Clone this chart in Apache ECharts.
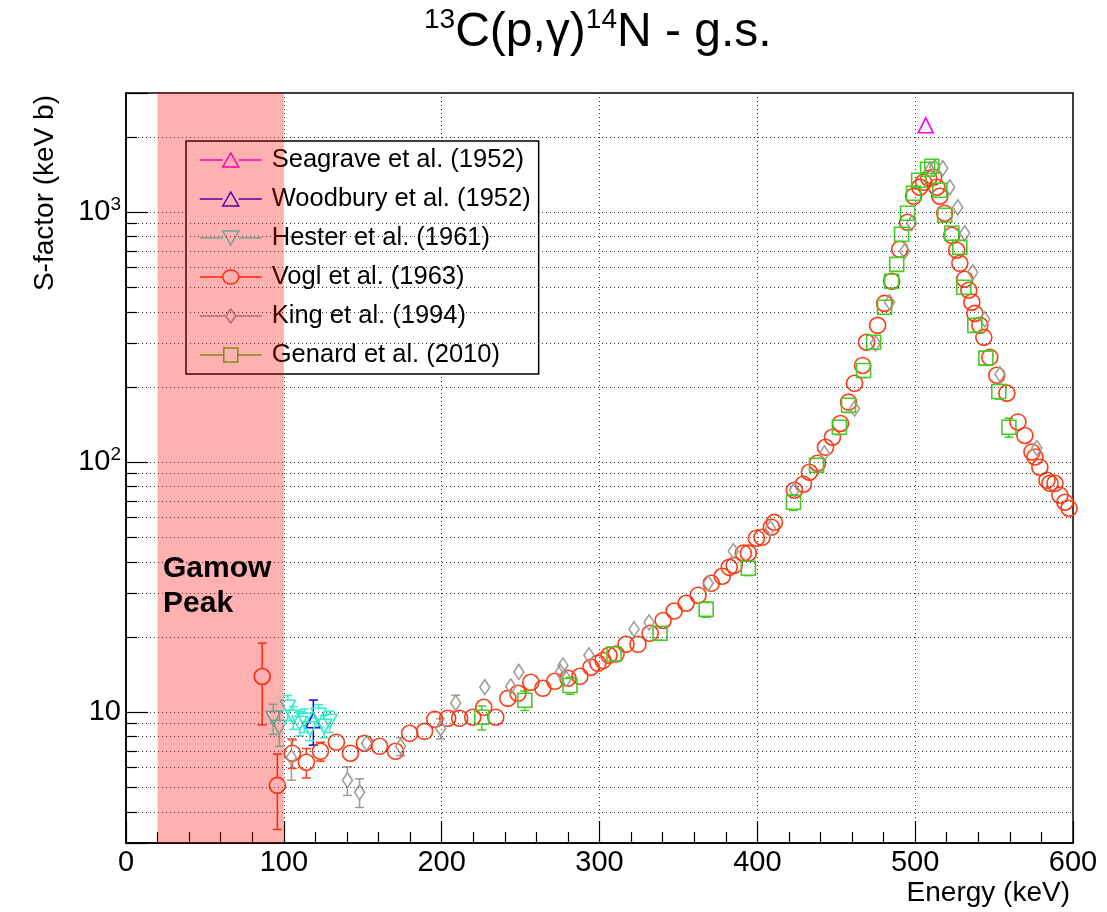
<!DOCTYPE html>
<html>
<head>
<meta charset="utf-8">
<script src="https://cdn.jsdelivr.net/npm/echarts@6/dist/echarts.min.js"></script>
<style>
html,body{margin:0;padding:0;background:#fff;}
#chart{width:1107px;height:912px;}
</style>
</head>
<body>
<div id="chart"></div>
<script>
// ---------------- data ----------------
const seagraveE = [506.7];
const seagraveS = [2228];
const seagraveErr = [0];

const woodburyE = [118.7];
const woodburyS = [9.29];
const woodburyErr = [1.9];

const hesterE = [93.3, 97.1, 102.5, 106.0, 110.0, 113.0, 116.5, 122.0, 125.5, 129.0];
const hesterS = [9.46, 8.71, 10.47, 9.55, 9.04, 9.3, 8.6, 9.73, 8.8, 9.2];
const hesterErr = [1.3, 1.4, 1.2, 1.0, 1.0, 1.0, 0.9, 1.0, 0.9, 0.9];

const voglE = [86.3, 95.9, 105.4, 114.3, 123.2, 133.3, 142.2, 151.1, 160.6, 170.8,
  179.7, 189.2, 195.6, 203.8, 211.4, 219.7, 226.7, 234.3, 241.9, 248.3,
  256.5, 264.1, 271.7, 280.0, 287.6, 294.6, 299.0, 302.2, 306.0, 310.5,
  316.8, 324.4, 332.1, 340.3, 347.3, 354.9, 362.5, 370.8, 377.8, 382.2,
  385.4, 391.1, 394.3, 399.4, 403.0, 408.9, 410.8, 423.5, 429.2, 433.0,
  438.1, 443.2, 447.6, 452.7, 457.8, 461.6, 466.7, 469.2, 476.2, 480.6,
  485.1, 490.2, 495.2, 499.0, 502.9, 505.4, 508.6, 511.7, 513.7, 515.6,
  518.7, 523.2, 526.3, 528.3, 531.4, 534.0, 535.9, 537.8, 541.0, 543.5,
  547.3, 551.7, 558.1, 565.1, 569.5, 574.0, 575.9, 579.0, 583.5, 585.4,
  588.6, 591.7, 594.9, 597.5];
const voglS = [13.9, 5.1, 6.86, 6.31, 6.98, 7.59, 6.86, 7.52, 7.31, 6.98,
  8.24, 8.39, 9.37, 9.46, 9.46, 9.55, 10.47, 9.55, 11.37, 11.91,
  13.18, 12.47, 13.3, 13.68, 13.93, 15.14, 15.7, 16.1, 16.9, 17.1,
  18.7, 18.7, 20.7, 23.3, 25.4, 27.3, 29.4, 32.8, 35.0, 38.0,
  38.7, 43.3, 43.3, 49.7, 50.1, 55.0, 57.5, 77.3, 81.7, 91.2,
  99.1, 114.8, 125.9, 143, 174, 207, 244, 302, 353, 432,
  530, 711, 912, 1159, 1259, 1318, 1368, 1380, 1259, 1159,
  991, 809, 705, 625, 540, 488, 437, 394, 353, 316,
  263, 223, 189, 145, 128, 110, 105, 95.5, 84.7, 82.4,
  82.4, 73.8, 69.2, 65.5];
const voglErr = [5.0, 1.7, 0.9, 0.85, 0.6, 0.5, 0.4, 0.45, 0.3, 0.3,
  0.3, 0.3, 0, 0, 0, 0, 0, 0, 0, 0,
  0, 0, 0, 0, 0, 0, 0, 0, 0, 0,
  0, 0, 0, 0, 0, 0, 0, 0, 0, 0,
  0, 0, 0, 0, 0, 0, 0, 0, 0, 0,
  0, 0, 0, 0, 0, 0, 0, 0, 0, 0,
  0, 0, 0, 0, 0, 0, 0, 0, 0, 0,
  0, 0, 0, 0, 0, 0, 0, 0, 0, 0,
  0, 0, 0, 0, 0, 0, 0, 0, 0, 0,
  0, 0, 0, 0];

const kingE = [104.8, 140.3, 148.0, 152.4, 174.0, 199.4, 208.9, 227.3, 243.8, 248.9,
  275.2, 276.8, 279.0, 293.3, 321.9, 331.4, 368.9, 384.8, 408.3, 423.5,
  442.5, 461.6, 474.9, 483.8, 493.3, 497.8, 509.2, 512.4, 517.5, 521.9,
  527.0, 531.4, 536.5, 544.1, 553.7, 577.1];
const kingS = [6.6, 5.35, 4.79, 7.52, 7.31, 8.63, 10.9, 12.6, 12.7, 14.5,
  14.5, 15.4, 13.6, 16.9, 21.5, 22.9, 32.8, 44.1, 54.5, 77.3,
  108.6, 164, 299, 437, 698, 904, 1472, 1514, 1500, 1259,
  1047, 824, 575, 373, 225, 114];
const kingErr = [1.25, 0.7, 0.63, 0.5, 0.6, 0.8, 0.8, 0.5, 0.6, 0.6,
  0.7, 0.7, 0.6, 0.7, 0.9, 0.9, 1.3, 1.5, 2, 3,
  4, 6, 10, 15, 25, 30, 50, 50, 50, 45,
  35, 30, 20, 13, 8, 4];

const genardE = [225.4, 252.7, 281.3, 309.2, 338.4, 367.6, 394.3, 422.9, 437.5, 452.0,
  457.8, 467.3, 473.7, 480.6, 485.1, 488.3, 491.4, 495.2, 499.0, 502.2,
  507.9, 510.5, 515.6, 518.7, 523.2, 528.3, 530.8, 537.8, 544.8, 553.0, 559.4];
const genardS = [9.55, 11.17, 12.8, 17.1, 20.7, 25.8, 37.7, 69.2, 97.3, 138,
  169, 233, 302, 417, 530, 619, 817, 991, 1191, 1343,
  1486, 1528, 1225, 973, 824, 724, 501, 353, 261, 192, 138];
const genardErr = [1.05, 1.0, 1.0, 1.0, 1.3, 1.8, 2.5, 5, 6, 9,
  11, 15, 18, 25, 30, 35, 45, 55, 65, 75,
  80, 80, 70, 55, 45, 40, 30, 22, 17, 13, 12];

const gamowRange = [20, 100];
const xTicks = [0, 100, 200, 300, 400, 500, 600];
const yLabelValues = [10, 100, 1000];
const yLabelTexts = ['10', '10{s|2}', '10{s|3}'];
const yMinorValues = [4, 5, 6, 7, 8, 9, 20, 30, 40, 50, 60, 70, 80, 90,
  200, 300, 400, 500, 600, 700, 800, 900, 2000];

// ---------------- chart ----------------
const FONT = 'Liberation Sans';
const C_SEA = '#ff00ff', C_WOOD = '#0000ff', C_HES = '#33eecc',
      C_VOGL = '#ff3a14', C_KING = '#a39a92', C_GEN = '#44cc22';

function zip(e, s, err) { return e.map((v, i) => [v, s[i], err[i]]); }

function errRender(color, r) {
  return function (params, api) {
    const x = api.value(0), y = api.value(1), e = api.value(2);
    if (!e) return null;
    const p = api.coord([x, y]);
    const top = api.coord([x, y + e])[1];
    const bot = api.coord([x, y - e])[1];
    const cw = 4.5;
    const st = { stroke: color, lineWidth: 1.5 };
    const ch = [];
    if (top < p[1] - r) {
      ch.push({ type: 'line', shape: { x1: p[0], y1: p[1] - r, x2: p[0], y2: top }, style: st });
      ch.push({ type: 'line', shape: { x1: p[0] - cw, y1: top, x2: p[0] + cw, y2: top }, style: st });
    }
    if (bot > p[1] + r) {
      ch.push({ type: 'line', shape: { x1: p[0], y1: p[1] + r, x2: p[0], y2: bot }, style: st });
      ch.push({ type: 'line', shape: { x1: p[0] - cw, y1: bot, x2: p[0] + cw, y2: bot }, style: st });
    }
    return { type: 'group', children: ch };
  };
}

function markerSeries(name, e, s, err, symbol, size, color) {
  return {
    type: 'scatter', name: name, data: zip(e, s, err),
    symbol: symbol, symbolSize: size, z: 3, silent: true,
    itemStyle: { color: 'rgba(0,0,0,0)', borderColor: color, borderWidth: 1.6, opacity: 1 },
    emphasis: { disabled: true }
  };
}
function errSeries(name, e, s, err, color, r) {
  return {
    type: 'custom', name: name, data: zip(e, s, err),
    encode: { x: 0, y: 1 }, z: 2, silent: true,
    renderItem: errRender(color, r)
  };
}

const downTri = 'path://M0,0 L14,0 L7,13 Z';

const minorLines = [];
yMinorValues.forEach(v => {
  minorLines.push({ yAxis: v, lineStyle: { type: [1, 3], color: '#333', width: 1 } });
  minorLines.push([{ coord: [0, v], lineStyle: { type: 'solid', color: '#000', width: 1.2 } }, { coord: [7, v] }]);
});

const series = [
  {
    type: 'scatter', name: 'gridhelper', data: [], silent: true,
    markLine: { silent: true, symbol: 'none', label: { show: false }, animation: false, data: minorLines }
  },
  errSeries('e1', seagraveE, seagraveS, seagraveErr, C_SEA, 7),
  errSeries('e2', woodburyE, woodburyS, woodburyErr, C_WOOD, 7),
  errSeries('e3', hesterE, hesterS, hesterErr, C_HES, 6),
  errSeries('e4', voglE, voglS, voglErr, C_VOGL, 8),
  errSeries('e5', kingE, kingS, kingErr, C_KING, 7.5),
  errSeries('e6', genardE, genardS, genardErr, C_GEN, 7),
  markerSeries('Seagrave et al. (1952)', seagraveE, seagraveS, seagraveErr, 'triangle', 15, C_SEA),
  markerSeries('Woodbury et al. (1952)', woodburyE, woodburyS, woodburyErr, 'triangle', 15, C_WOOD),
  markerSeries('Hester et al. (1961)', hesterE, hesterS, hesterErr, downTri, [15, 14], C_HES),
  markerSeries('Vogl et al. (1963)', voglE, voglS, voglErr, 'circle', 16, C_VOGL),
  markerSeries('King et al. (1994)', kingE, kingS, kingErr, 'diamond', [10, 15], C_KING),
  markerSeries('Genard et al. (2010)', genardE, genardS, genardErr, 'rect', 14, C_GEN),
  {
    type: 'custom', name: 'gamow', z: 10, silent: true,
    data: [[gamowRange[0], gamowRange[1], 10]],
    encode: { x: [0, 1], y: 2 },
    renderItem: function (params, api) {
      const x0 = api.coord([api.value(0), 10])[0];
      const x1 = api.coord([api.value(1), 10])[0];
      const cs = params.coordSys;
      return { type: 'rect', shape: { x: x0, y: cs.y, width: x1 - x0, height: cs.height },
               style: { fill: 'rgba(255,0,0,0.31)' } };
    }
  }
];

const legendIcons = {
  'Seagrave et al. (1952)': 'path://M0,8H23M39,8H62M23,15L31,1L39,15Z',
  'Woodbury et al. (1952)': 'path://M0,8H23M39,8H62M23,15L31,1L39,15Z',
  'Hester et al. (1961)': 'path://M0,8H23M39,8H62M23,1L31,15L39,1Z',
  'Vogl et al. (1963)': 'path://M0,8H23M39,8H62M23,8A8,7,0,1,0,39,8A8,7,0,1,0,23,8Z',
  'King et al. (1994)': 'path://M0,8H26M36,8H62M31,1L36,8L31,15L26,8Z',
  'Genard et al. (2010)': 'path://M0,8H24M38,8H62M24,1H38V15H24Z'
};

const chart = echarts.init(document.getElementById('chart'), null, { renderer: 'canvas' });
chart.setOption({
  animation: false,
  backgroundColor: '#fff',
  textStyle: { fontFamily: FONT },
  title: {
    text: '{sup|13}{m|C(p,γ)}{sup|14}{m|N - g.s.}',
    left: 424, top: 6, padding: 0,
    textStyle: {
      fontWeight: 'normal',
      rich: {
        m: { fontSize: 48, fontFamily: FONT, fontWeight: 'normal', color: '#000', lineHeight: 54 },
        sup: { fontSize: 28, fontFamily: FONT, fontWeight: 'normal', color: '#000', lineHeight: 54, verticalAlign: 'top', padding: [0, 0, 22, 0] }
      }
    }
  },
  grid: { left: 126, right: 34, top: 93, bottom: 69, show: true, borderColor: '#000', borderWidth: 1.5, containLabel: false },
  legend: {
    orient: 'vertical', left: 186, top: 141,
    padding: [6, 8, 6, 13], itemGap: 13, itemWidth: 62, itemHeight: 16,
    backgroundColor: '#fff', borderColor: '#000', borderWidth: 1.5,
    selectedMode: false,
    itemStyle: { borderWidth: 1.5 },
    textStyle: { fontSize: 25.5, fontFamily: FONT, color: '#000', lineHeight: 26, padding: [0, 0, 0, 5] },
    data: Object.keys(legendIcons).map(n => ({ name: n, icon: legendIcons[n] }))
  },
  xAxis: {
    type: 'value', min: xTicks[0], max: xTicks[xTicks.length - 1], interval: 100,
    axisLine: { lineStyle: { color: '#000', width: 1.5 } },
    axisTick: { inside: true, length: 22, lineStyle: { color: '#000', width: 1.2 } },
    minorTick: { show: true, splitNumber: 5, length: 11, lineStyle: { color: '#000', width: 1.2 } },
    axisLabel: { fontSize: 29, fontFamily: FONT, color: '#000', margin: 5 },
    splitLine: { show: true, lineStyle: { type: [1, 3], color: '#333', width: 1 } }
  },
  yAxis: {
    type: 'log', logBase: 10, min: 3, max: 3000,
    axisLine: { lineStyle: { color: '#000', width: 1.5 } },
    axisTick: { inside: true, length: 22, lineStyle: { color: '#000', width: 1.2 } },
    axisLabel: {
      fontSize: 29, fontFamily: FONT, color: '#000', margin: 5,
      formatter: function (v) {
        for (let i = 0; i < yLabelValues.length; i++) {
          if (Math.abs(v - yLabelValues[i]) / yLabelValues[i] < 1e-6) return yLabelTexts[i];
        }
        return '';
      },
      rich: { s: { fontSize: 19, fontFamily: FONT, color: '#000', verticalAlign: 'top', padding: [0, 0, 16, 0] } }
    },
    splitLine: { show: true, lineStyle: { type: [1, 3], color: '#333', width: 1 } }
  },
  graphic: [
    { type: 'text', x: 45, y: 95, rotation: Math.PI / 2, silent: true,
      style: { text: 'S-factor (keV b)', fontSize: 28, fontFamily: FONT, fill: '#000', align: 'right', verticalAlign: 'middle' } },
    { type: 'text', x: 1070, y: 893, silent: true,
      style: { text: 'Energy (keV)', fontSize: 28, fontFamily: FONT, fill: '#000', align: 'right', verticalAlign: 'middle' } },
    { type: 'text', x: 163, y: 551, silent: true, z: 20,
      style: { text: 'Gamow\nPeak', fontSize: 30, fontWeight: 'bold', lineHeight: 35, fontFamily: FONT, fill: '#000', align: 'left', verticalAlign: 'top' } }
  ],
  series: series
});
</script>
</body>
</html>
